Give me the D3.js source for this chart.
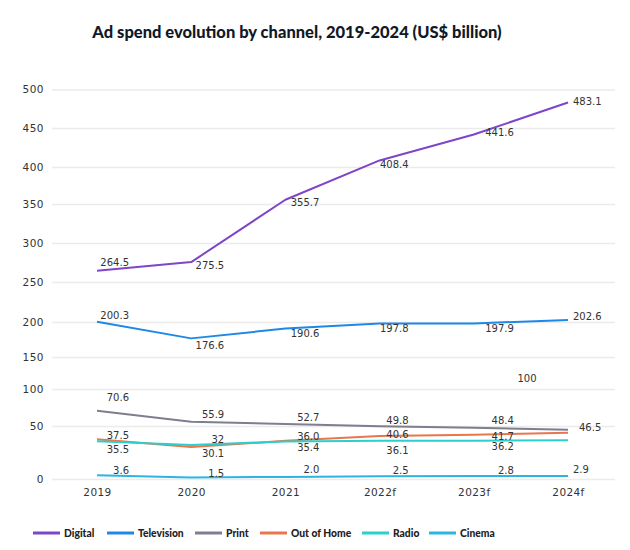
<!DOCTYPE html>
<html>
<head>
<meta charset="utf-8">
<script src="https://cdn.jsdelivr.net/npm/d3@7"></script>
<style>
  body { margin: 0; background: #fff; }
  svg { display: block; }
</style>
</head>
<body>
<svg id="chart" width="630" height="550"></svg>
<script>
// ---------- data ----------
const categories = ["2019", "2020", "2021", "2022f", "2023f", "2024f"];
const seriesNames = ["Digital", "Television", "Print", "Out of Home", "Radio", "Cinema"];
const digital    = [264.5, 275.5, 355.7, 408.4, 441.6, 483.1];
const television = [200.3, 176.6, 190.6, 197.8, 197.9, 202.6];
const print      = [70.6, 55.9, 52.7, 49.8, 48.4, 46.5];
const outOfHome  = [37.5, 30.1, 36.0, 40.6, 41.7, 43.7];
const radio      = [35.5, 32.0, 35.4, 36.1, 36.2, 36.5];
const cinema     = [3.6, 1.5, 2.0, 2.5, 2.8, 2.9];
const digitalLabels    = ["264.5", "275.5", "355.7", "408.4", "441.6", "483.1"];
const televisionLabels = ["200.3", "176.6", "190.6", "197.8", "197.9", "202.6"];
const printLabels      = ["70.6", "55.9", "52.7", "49.8", "48.4", "46.5"];
const outOfHomeLabels  = ["37.5", "30.1", "36.0", "40.6", "41.7", null];
const radioLabels      = ["35.5", "32", "35.4", "36.1", "36.2", null];
const cinemaLabels     = ["3.6", "1.5", "2.0", "2.5", "2.8", "2.9"];
const yTicks = [0, 50, 100, 150, 200, 250, 300, 350, 400, 450, 500];
const title = "Ad spend evolution by channel, 2019-2024 (US$ billion)";
const strayNote = "100";

// ---------- layout / style ----------
const colors = ["#7e45c8", "#1e88e8", "#7d7e8e", "#e8764e", "#2bcfcb", "#2bb5e3"];
// y-axis tick positions in the source image (non-uniform spacing)
const yRange = [479, 426, 389, 357, 322, 282, 243, 204, 167, 128, 89.5];
// label offsets: x offset per column (end anchored except last), y offsets per series/column
const labelDx = [32, 33, 34, 29, 40, 5];
const labelDy = [
  [-8, 3, 3, 4, -2, -1.5],
  [-6, 7, 5, 5, 5, -3],
  [-13, -7, -7, -6, -7, -2],
  [-4, 6, -4, -1, 2, 0],
  [8, -6, 6, 10, 6, 0],
  [-5, -4, -7, -6, -6, -6]
];
const lastDxExtra = [0, 0, 6, 0, 0, 0];

const values = [digital, television, print, outOfHome, radio, cinema];
const labels = [digitalLabels, televisionLabels, printLabels, outOfHomeLabels, radioLabels, cinemaLabels];

const svg = d3.select("#chart");

const x = d3.scalePoint().domain(categories).range([97, 568]);
const y = d3.scaleLinear().domain(yTicks).range(yRange);

const gridLeft = 52, gridRight = 615;

// title
svg.append("text")
  .attr("x", 297).attr("y", 38)
  .attr("text-anchor", "middle")
  .attr("font-family", "Lato, 'Noto Sans', sans-serif")
  .attr("font-weight", 900)
  .attr("font-size", 16.5)
  .attr("fill", "#111827")
  .text(title);

// y axis + grid
const yAxis = svg.append("g")
  .attr("transform", `translate(${gridLeft},0)`)
  .call(d3.axisLeft(y).tickValues(yTicks).tickSize(-(gridRight - gridLeft)).tickPadding(8).tickFormat(d3.format("d")));
yAxis.select(".domain").remove();
yAxis.selectAll(".tick line").attr("stroke", "#ebebeb").attr("stroke-width", 1.5);
yAxis.selectAll(".tick text")
  .attr("font-family", "'DejaVu Sans', sans-serif")
  .attr("font-size", 10.5)
  .attr("fill", "#333")
  .attr("letter-spacing", "0.5px");

// x axis
const xAxis = svg.append("g")
  .attr("transform", `translate(0,482)`)
  .call(d3.axisBottom(x).tickSize(0).tickPadding(7));
xAxis.select(".domain").remove();
xAxis.selectAll(".tick text")
  .attr("font-family", "'DejaVu Sans', sans-serif")
  .attr("font-size", 10.5)
  .attr("fill", "#333")
  .attr("letter-spacing", "0.4px");

// lines
const line = d3.line().x((d, i) => x(categories[i])).y(d => y(d));
values.forEach((vals, s) => {
  svg.append("path")
    .datum(vals)
    .attr("fill", "none")
    .attr("stroke", colors[s])
    .attr("stroke-width", 2)
    .attr("stroke-linejoin", "round")
    .attr("d", line);
});

// data labels
labels.forEach((labs, s) => {
  labs.forEach((t, i) => {
    if (t === null) return;
    const last = i === categories.length - 1;
    svg.append("text")
      .attr("x", x(categories[i]) + labelDx[i] + (last ? lastDxExtra[s] : 0))
      .attr("y", y(values[s][i]) + labelDy[s][i])
      .attr("dy", "0.35em")
      .attr("text-anchor", last ? "start" : "end")
      .attr("font-family", "'DejaVu Sans', sans-serif")
      .attr("font-size", 10)
      .attr("fill", "#333")
      .text(t);
  });
});

// stray annotation
svg.append("text")
  .attr("x", 527).attr("y", 378).attr("dy", "0.35em")
  .attr("text-anchor", "middle")
  .attr("font-family", "'DejaVu Sans', sans-serif")
  .attr("font-size", 10)
  .attr("fill", "#333")
  .text(strayNote);

// legend
const legendX = [33, 107, 195, 260, 362, 429];
const legend = svg.append("g");
seriesNames.forEach((name, s) => {
  const g = legend.append("g").attr("transform", `translate(${legendX[s]},533)`);
  g.append("line").attr("x1", 0).attr("x2", 27).attr("y1", 0).attr("y2", 0)
    .attr("stroke", colors[s]).attr("stroke-width", 3);
  g.append("text").attr("x", 31).attr("y", 0).attr("dy", "0.35em")
    .attr("font-family", "Lato, 'Noto Sans', sans-serif")
    .attr("font-weight", 900)
    .attr("font-size", 10.3)
    .attr("fill", "#222")
    .text(name);
});
</script>
</body>
</html>
